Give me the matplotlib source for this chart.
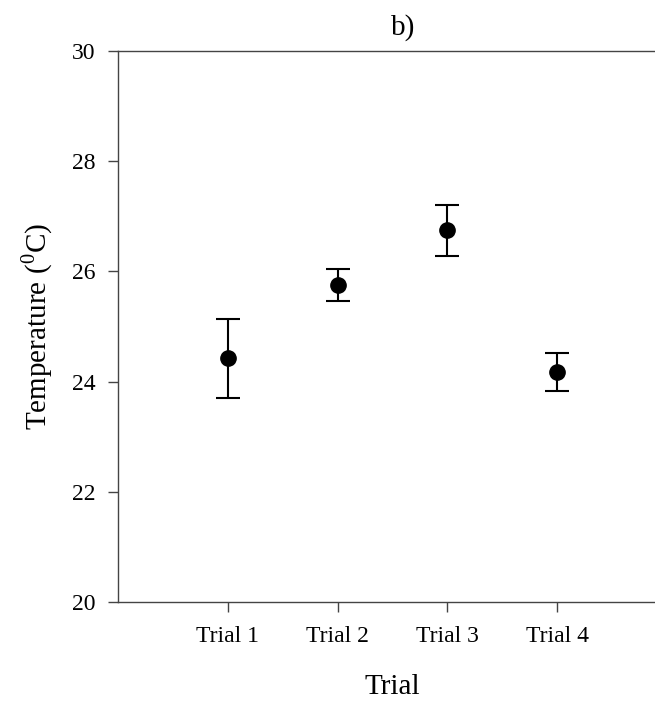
import matplotlib
matplotlib.use("Agg")
import matplotlib.pyplot as plt

# data
trials = ["Trial 1", "Trial 2", "Trial 3", "Trial 4"]
temp_mean = [24.42, 25.76, 26.75, 24.17]
err_low = [0.72, 0.29, 0.47, 0.34]
err_high = [0.71, 0.29, 0.45, 0.35]

plt.rcParams["font.family"] = ["Liberation Serif", "DejaVu Serif"]
plt.rcParams["mathtext.fontset"] = "custom"
plt.rcParams["mathtext.rm"] = "Liberation Serif"

fig = plt.figure(figsize=(6.55, 7.06), dpi=100)
ax = fig.add_axes([118 / 655, 1 - 602 / 706, 1 - 118 / 655, (602 - 51) / 706])

x = list(range(1, len(trials) + 1))
ax.errorbar(x, temp_mean, yerr=[err_low, err_high], fmt="o", color="black",
            markersize=11, elinewidth=1.5, capsize=8.5, capthick=1.5)

ax.set_xlim(0, 4.89)
ax.set_ylim(20, 30)
ax.set_yticks([20, 22, 24, 26, 28, 30])
ax.set_xticks(x)
ax.set_xticklabels(trials)

for side in ["left", "bottom", "top"]:
    ax.spines[side].set_color("#444444")
    ax.spines[side].set_linewidth(1.0)
ax.spines["right"].set_visible(False)

ax.tick_params(axis="y", direction="out", length=7, width=1.0, color="#444444",
               labelsize=17, pad=9)
ax.tick_params(axis="x", direction="out", length=7, width=1.0, color="#444444",
               labelsize=17, pad=10)

ax.set_xlabel("Trial", fontsize=21)
ax.xaxis.set_label_coords((392 - 118) / 537, -0.13)
ax.set_ylabel(r"Temperature ($^{\mathrm{0}}$C)", fontsize=21, labelpad=12)
ax.set_title("b)", fontsize=21, x=(403 - 118) / 537, pad=12)

fig.savefig("out.png", dpi=100)
